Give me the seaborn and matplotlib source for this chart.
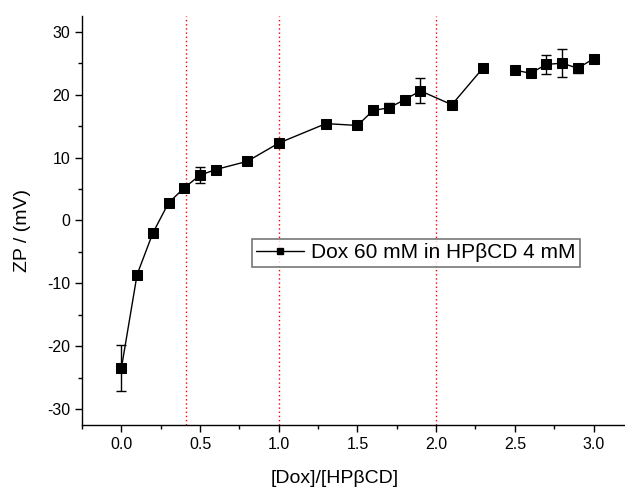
import numpy as np
import pandas as pd
import matplotlib
matplotlib.use("Agg")
import matplotlib.pyplot as plt
from matplotlib.lines import Line2D
from matplotlib.ticker import MultipleLocator
import seaborn as sns

ratio = [0.0, 0.1, 0.2, 0.3, 0.4, 0.5, 0.6, 0.8, 1.0, 1.3, 1.5, 1.6, 1.7, 1.8, 1.9, 2.1, 2.3,
         2.5, 2.6, 2.7, 2.8, 2.9, 3.0]
zp = [-23.5, -8.6, -2.0, 2.8, 5.2, 7.2, 8.1, 9.4, 12.3, 15.4, 15.1, 17.5, 17.9, 19.2, 20.6, 18.4, 24.3,
      23.9, 23.4, 24.8, 25.0, 24.2, 25.7]
zp_err = [3.65, 0.3, 0.3, 0.3, 0.5, 1.3, 0.5, 0.3, 0.4, 0.3, 0.4, 0.4, 0.7, 0.4, 2.0, 0.3, 0.3,
          0.3, 0.3, 1.5, 2.2, 0.7, 0.3]
segment = [0] * 17 + [1] * 6
ref_lines = [0.41, 1.0, 2.0]
legend_label = "Dox 60 mM in HP\u03b2CD 4 mM"

df = pd.DataFrame({"ratio": ratio, "zp": zp, "err": zp_err, "seg": segment})

sns.set_style("ticks")
plt.rcParams["font.family"] = ["Liberation Sans", "DejaVu Sans"]
plt.rcParams["axes.unicode_minus"] = False
plt.rcParams["text.color"] = "black"
plt.rcParams["axes.labelcolor"] = "black"

fig = plt.figure(figsize=(6.25, 4.92), dpi=100)
ax = fig.add_axes([0.1312, 0.1362, 0.8688, 0.8313])

for xv in ref_lines:
    ax.axvline(xv, color="red", linestyle=(0, (1, 2)), linewidth=1.0, zorder=1)

ax.errorbar(df["ratio"], df["zp"], yerr=df["err"], fmt="none", ecolor="black",
            elinewidth=1.0, capsize=3.5, capthick=1.0, zorder=2)

sns.lineplot(data=df, x="ratio", y="zp", units="seg", estimator=None, ax=ax,
             color="black", linewidth=1.0, marker="s", markersize=7.5,
             markeredgecolor="black", markerfacecolor="black", legend=False, zorder=3)

ax.set_xlim(-0.25, 3.2)
ax.set_ylim(-32.5, 32.5)
ax.xaxis.set_major_locator(MultipleLocator(0.5))
ax.xaxis.set_minor_locator(MultipleLocator(0.25))
ax.yaxis.set_major_locator(MultipleLocator(10))
ax.yaxis.set_minor_locator(MultipleLocator(5))
ax.xaxis.set_major_formatter(matplotlib.ticker.FormatStrFormatter("%.1f"))
ax.tick_params(which="major", length=5, width=1, labelsize=11.5, color="black", labelcolor="black")
ax.tick_params(which="minor", length=3, width=1, color="black")
for s in ["top", "right"]:
    ax.spines[s].set_visible(False)
for s in ["left", "bottom"]:
    ax.spines[s].set_linewidth(1.0)
    ax.spines[s].set_color("black")

ax.set_xlabel("[Dox]/[HP\u03b2CD]", fontsize=14, color="black")
ax.set_ylabel("ZP / (mV)", fontsize=14, color="black")
ax.xaxis.set_label_coords(0.466, -0.11)
ax.yaxis.set_label_coords(-0.094, 0.476)

handle = Line2D([], [], color="black", linewidth=1.0, marker="s", markersize=5,
                markerfacecolor="black", markeredgecolor="black")
leg = ax.legend([handle], [legend_label], loc="upper left", bbox_to_anchor=(0.3125, 0.454),
                borderaxespad=0, fontsize=15, frameon=True, fancybox=False,
                handlelength=2.3, handletextpad=0.37, borderpad=0.2)
leg.get_frame().set_edgecolor("#555555")
leg.get_frame().set_linewidth(1.2)
for t in leg.get_texts():
    t.set_color("black")

fig.savefig("out.png", dpi=100)
